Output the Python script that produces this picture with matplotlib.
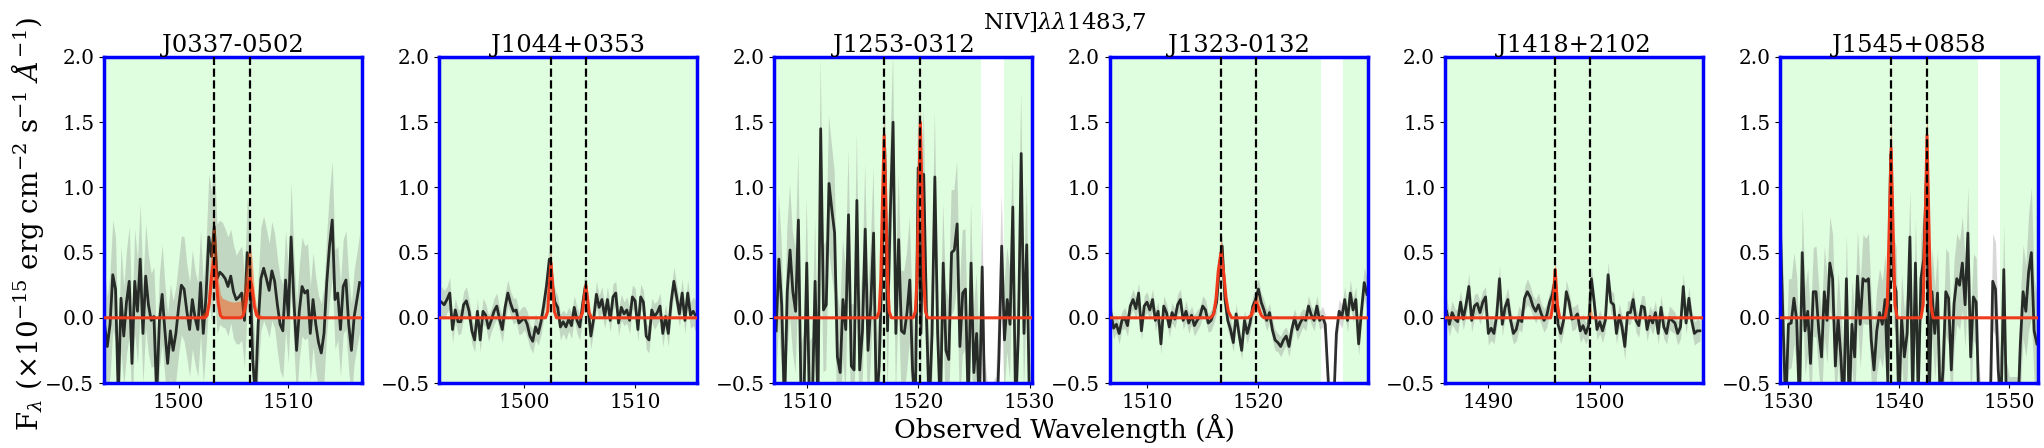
import numpy as np
import matplotlib
matplotlib.use("Agg")
import matplotlib.pyplot as plt

plt.rcParams["font.family"] = "DejaVu Serif"
plt.rcParams["mathtext.fontset"] = "dejavuserif"

# ---- data ------------------------------------------------------------------
names = ["J0337-0502", "J1044+0353", "J1253-0312", "J1323-0132", "J1418+2102", "J1545+0858"]
xlims = [(1493.2, 1516.7), (1492.3, 1515.6), (1507.1, 1530.25),
         (1506.65, 1529.8), (1486.1, 1509.25), (1529.25, 1552.6)]
line_pos = [(1503.27, 1506.5), (1502.4, 1505.6), (1516.95, 1520.2),
            (1516.64, 1519.82), (1496.0, 1499.17), (1539.3, 1542.55)]
good_ranges = [[(1493.2, 1516.7)], [(1492.3, 1515.6)],
               [(1507.1, 1525.6), (1527.7, 1530.25)],
               [(1506.65, 1525.6), (1527.6, 1529.8)],
               [(1486.1, 1509.25)],
               [(1529.25, 1547.2), (1549.2, 1552.6)]]

# spectra: first pixel wavelength, pixel size (A), flux, error
wave_start = [1493.25, 1492.5, 1507.25, 1506.75, 1486.25, 1529.25]
wave_step = [0.25, 0.25, 0.25, 0.25, 0.25, 0.25]

flux1 = [-0.05, -0.22, -0.05, 0.33, 0.22, -0.60, 0.15, -0.14, 0.12, 0.28,
         -0.35, 0.28, 0.05, 0.45, -0.12, 0.32, 0.10, -0.02, 0.01, -0.60,
         -0.02, 0.18, -0.10, -0.35, -0.10, -0.25, -0.12, 0.08, 0.25, 0.22,
         0.05, -0.09, 0.14, 0.00, -0.09, 0.27, -0.12, 0.17, 0.62, 0.47,
         0.70, 0.30, 0.35, 0.33, 0.30, 0.24, 0.32, 0.20, 0.14, 0.16,
         0.19, -0.02, 0.50, 0.39, -0.32, -0.60, -0.05, 0.30, 0.38, 0.30,
         0.21, 0.36, 0.28, 0.10, -0.05, -0.10, 0.29, 0.01, 0.62, 0.14,
         -0.25, 0.05, 0.24, 0.19, 0.21, -0.12, 0.14, -0.05, -0.19, -0.27,
         -0.12, 0.27, 0.55, 0.75, 0.14, 0.19, -0.09, 0.24, 0.29, -0.05,
         -0.25, 0.01, 0.14, 0.27]
err1 = [0.40, 0.38, 0.40, 0.42, 0.40, 0.38, 0.40, 0.38, 0.40, 0.42,
        0.38, 0.40, 0.40, 0.42, 0.38, 0.40, 0.38, 0.36, 0.38, 0.40,
        0.36, 0.38, 0.36, 0.38, 0.36, 0.38, 0.36, 0.36, 0.38, 0.40,
        0.36, 0.36, 0.38, 0.36, 0.36, 0.40, 0.38, 0.40, 0.48, 0.50,
        0.50, 0.42, 0.40, 0.40, 0.38, 0.38, 0.36, 0.36, 0.34, 0.36,
        0.36, 0.36, 0.42, 0.40, 0.38, 0.38, 0.36, 0.40, 0.40, 0.38,
        0.36, 0.38, 0.36, 0.36, 0.36, 0.36, 0.38, 0.36, 0.42, 0.36,
        0.36, 0.36, 0.38, 0.36, 0.36, 0.36, 0.36, 0.36, 0.36, 0.38,
        0.36, 0.38, 0.42, 0.45, 0.38, 0.36, 0.36, 0.36, 0.38, 0.36,
        0.36, 0.36, 0.36, 0.38]

flux2 = [0.12, 0.10, 0.14, 0.19, -0.09, 0.06, -0.03, -0.03, 0.10, 0.13,
         0.05, -0.10, -0.17, 0.05, -0.17, 0.05, 0.02, -0.08, -0.02, 0.05,
         0.09, -0.01, -0.09, 0.08, 0.19, 0.11, 0.05, 0.06, -0.04, -0.02,
         0.00, -0.05, -0.14, -0.18, -0.07, -0.12, -0.03, 0.10, 0.25, 0.45,
         0.27, 0.12, 0.08, -0.07, -0.03, -0.07, -0.01, -0.06, 0.08, -0.02,
         -0.07, 0.10, 0.24, 0.08, -0.14, -0.01, 0.18, 0.08, 0.14, 0.01,
         0.14, -0.02, 0.16, 0.19, -0.04, 0.08, 0.03, 0.06, -0.02, 0.16,
         0.13, -0.09, 0.16, 0.12, -0.14, -0.17, 0.06, 0.01, 0.04, 0.09,
         -0.12, 0.01, -0.12, 0.12, 0.28, 0.16, 0.03, 0.19, -0.02, 0.19,
         0.02, 0.05, 0.01]
err2 = [0.12, 0.11, 0.10, 0.12, 0.10, 0.09, 0.10, 0.09, 0.10, 0.11,
        0.09, 0.10, 0.09, 0.10, 0.09, 0.10, 0.09, 0.10, 0.09, 0.10,
        0.10, 0.09, 0.10, 0.11, 0.10, 0.09, 0.10, 0.09, 0.09, 0.10,
        0.09, 0.10, 0.09, 0.09, 0.10, 0.09, 0.10, 0.10, 0.11, 0.12,
        0.11, 0.10, 0.09, 0.10, 0.09, 0.10, 0.09, 0.10, 0.09, 0.10,
        0.10, 0.11, 0.12, 0.10, 0.10, 0.09, 0.10, 0.09, 0.10, 0.09,
        0.10, 0.09, 0.10, 0.09, 0.10, 0.10, 0.09, 0.10, 0.10, 0.09,
        0.10, 0.09, 0.10, 0.09, 0.10, 0.10, 0.09, 0.10, 0.09, 0.10,
        0.10, 0.09, 0.10, 0.10, 0.11, 0.10, 0.10, 0.11, 0.10, 0.10,
        0.10, 0.11, 0.12]

flux3 = [-0.10, 0.45, 0.10, -0.70, 0.20, 0.52, 0.20, 0.05, 0.75, -0.70,
         -0.60, 0.42, -0.70, -0.65, 0.28, -0.70, 1.45, 0.06, 0.10, 1.03,
         0.83, 0.65, -0.30, -0.42, 0.14, -0.09, 0.79, -0.37, -0.40, 0.90,
         -0.40, -0.10, 0.68, -0.25, 0.10, 0.65, -0.70, -0.37, 0.40, 1.30,
         -0.10, 0.80, 1.50, -0.12, 0.60, -0.10, -0.12, 0.04, 0.29, -0.40,
         -0.70, 1.15, -0.12, 1.10, 0.00, -0.70, -0.12, 1.08, -0.12, -0.70,
         0.42, -0.25, -0.32, 0.50, 0.52, 0.72, -0.22, 0.19, 0.22, -0.70,
         0.42, -0.42, -0.12, -0.70, 0.39, -0.80, -1.00, -1.00, -1.00, -0.90,
         -0.31, 0.55, -0.17, 0.14, -0.05, 0.85, -0.70, -0.12, 1.26, -0.12,
         0.56, -0.70]
err3 = [0.45, 0.50, 0.48, 0.52, 0.48, 0.50, 0.46, 0.48, 0.52, 0.50,
        0.48, 0.50, 0.52, 0.50, 0.48, 0.50, 0.55, 0.48, 0.50, 0.52,
        0.50, 0.48, 0.50, 0.48, 0.46, 0.48, 0.50, 0.48, 0.50, 0.52,
        0.48, 0.46, 0.50, 0.48, 0.46, 0.50, 0.48, 0.46, 0.48, 0.55,
        0.50, 0.48, 0.52, 0.48, 0.50, 0.46, 0.48, 0.46, 0.48, 0.50,
        0.50, 0.52, 0.50, 0.52, 0.48, 0.50, 0.48, 0.50, 0.48, 0.50,
        0.46, 0.48, 0.46, 0.48, 0.46, 0.48, 0.46, 0.48, 0.46, 0.48,
        0.46, 0.48, 0.46, 0.48, 0.46, 0.50, 0.50, 0.50, 0.50, 0.45,
        0.42, 0.40, 0.42, 0.40, 0.42, 0.45, 0.42, 0.44, 0.48, 0.44,
        0.46, 0.44]

flux4 = [0.04, -0.08, -0.05, -0.12, -0.02, 0.00, -0.06, 0.09, 0.14, 0.07,
         0.19, -0.10, 0.09, 0.12, 0.06, 0.14, -0.02, 0.05, -0.20, 0.09,
         0.04, -0.07, 0.04, -0.01, 0.10, 0.14, -0.02, 0.05, -0.04, 0.02,
         -0.06, -0.02, 0.01, 0.09, 0.06, -0.04, -0.02, 0.04, 0.12, 0.39,
         0.55, 0.14, -0.02, -0.09, -0.19, 0.03, -0.12, -0.25, -0.02, -0.12,
         -0.04, 0.09, 0.14, 0.22, 0.12, 0.06, -0.02, 0.04, -0.09, -0.17,
         -0.19, -0.22, -0.17, -0.14, -0.22, -0.09, 0.00, -0.09, -0.04, 0.00,
         -0.02, 0.09, 0.02, -0.02, 0.09, -0.02, 0.01, -0.05, -0.45, -0.80,
         -0.70, -0.12, 0.05, 0.01, 0.14, -0.02, 0.19, 0.06, 0.14, -0.20,
         0.05, 0.27, 0.18]
err4 = [0.08, 0.08, 0.07, 0.08, 0.07, 0.08, 0.08, 0.07, 0.08, 0.08,
        0.08, 0.07, 0.08, 0.08, 0.07, 0.08, 0.08, 0.07, 0.08, 0.08,
        0.07, 0.08, 0.08, 0.07, 0.08, 0.08, 0.07, 0.08, 0.08, 0.07,
        0.08, 0.08, 0.07, 0.08, 0.08, 0.07, 0.08, 0.08, 0.08, 0.09,
        0.09, 0.08, 0.08, 0.08, 0.07, 0.08, 0.08, 0.07, 0.08, 0.08,
        0.07, 0.08, 0.08, 0.08, 0.07, 0.08, 0.08, 0.07, 0.08, 0.08,
        0.07, 0.08, 0.08, 0.07, 0.08, 0.08, 0.07, 0.08, 0.08, 0.07,
        0.08, 0.08, 0.07, 0.08, 0.08, 0.07, 0.08, 0.08, 0.10, 0.12,
        0.12, 0.10, 0.09, 0.09, 0.10, 0.09, 0.10, 0.09, 0.10, 0.09,
        0.10, 0.12, 0.12]

flux5 = [0.05, -0.05, 0.04, -0.01, -0.03, 0.12, -0.01, 0.10, 0.24, -0.02,
         0.09, 0.11, 0.04, 0.12, 0.16, -0.12, -0.08, -0.12, 0.02, 0.30,
         -0.05, 0.08, 0.14, -0.02, -0.12, -0.09, 0.00, -0.03, 0.15, 0.20,
         0.16, 0.09, 0.05, 0.10, 0.03, -0.02, 0.02, 0.12, 0.18, 0.30,
         -0.05, -0.12, -0.02, 0.20, 0.12, -0.01, 0.00, 0.03, -0.10, -0.06,
         -0.12, -0.06, 0.30, 0.12, -0.09, -0.03, -0.10, -0.02, 0.33, 0.12,
         0.10, -0.12, 0.02, -0.07, -0.22, 0.04, 0.04, 0.14, -0.02, -0.06,
         0.09, 0.08, -0.09, 0.01, -0.04, 0.04, -0.12, 0.08, -0.07, -0.12,
         0.00, -0.02, -0.04, -0.12, -0.07, 0.24, -0.04, 0.15, -0.02, -0.12,
         -0.10, -0.10]
err5 = [0.10, 0.09, 0.09, 0.08, 0.09, 0.09, 0.08, 0.09, 0.10, 0.09,
        0.09, 0.08, 0.09, 0.09, 0.08, 0.09, 0.09, 0.08, 0.09, 0.10,
        0.09, 0.08, 0.09, 0.09, 0.08, 0.09, 0.09, 0.08, 0.09, 0.10,
        0.09, 0.08, 0.09, 0.09, 0.08, 0.09, 0.09, 0.08, 0.09, 0.10,
        0.09, 0.08, 0.09, 0.09, 0.08, 0.09, 0.09, 0.08, 0.09, 0.09,
        0.08, 0.09, 0.10, 0.09, 0.08, 0.09, 0.09, 0.08, 0.10, 0.09,
        0.09, 0.08, 0.09, 0.09, 0.10, 0.09, 0.09, 0.08, 0.09, 0.09,
        0.08, 0.09, 0.09, 0.08, 0.09, 0.09, 0.08, 0.09, 0.09, 0.08,
        0.09, 0.09, 0.08, 0.09, 0.09, 0.10, 0.09, 0.09, 0.08, 0.09,
        0.09, 0.08]

flux6 = [0.75, 0.00, -0.70, -0.05, -0.04, 0.15, -0.02, -0.70, 0.50, -0.10,
         0.05, -0.35, 0.20, 0.20, -0.10, -0.30, 0.20, -0.02, 0.42, 0.30,
         -0.37, 0.00, -0.30, -0.70, 0.30, -0.70, -0.05, -0.30, 0.32, -0.05,
         0.30, 0.28, 0.30, -0.17, -0.40, -0.10, 0.04, -0.05, 0.14, -0.50,
         1.25, 0.30, 0.20, -0.70, 0.00, -0.30, -0.12, 0.62, -0.60, 0.42,
         -0.60, 0.30, 0.45, 1.10, -0.60, 0.20, -0.12, 0.19, -0.70, -0.40,
         0.20, 0.15, -0.40, 0.11, 0.30, 0.25, 0.42, 0.10, 0.65, -0.30,
         0.16, 0.12, -0.70, -1.00, -1.00, -1.00, -0.80, 0.28, 0.22, -0.40,
         -0.70, 0.37, -0.70, -0.80, -0.80, -0.80, -0.80, -0.20, 0.20, 0.05,
         0.35, 0.50, -0.10, -0.20]
err6 = [0.40, 0.38, 0.36, 0.35, 0.34, 0.35, 0.34, 0.36, 0.35, 0.34,
        0.33, 0.35, 0.34, 0.35, 0.33, 0.34, 0.35, 0.33, 0.36, 0.34,
        0.33, 0.35, 0.34, 0.36, 0.34, 0.36, 0.33, 0.34, 0.35, 0.33,
        0.34, 0.33, 0.35, 0.33, 0.34, 0.33, 0.34, 0.33, 0.35, 0.36,
        0.40, 0.35, 0.34, 0.36, 0.34, 0.35, 0.34, 0.36, 0.35, 0.34,
        0.35, 0.34, 0.36, 0.40, 0.35, 0.34, 0.35, 0.33, 0.36, 0.34,
        0.33, 0.35, 0.34, 0.33, 0.35, 0.34, 0.36, 0.33, 0.35, 0.34,
        0.33, 0.34, 0.36, 0.38, 0.38, 0.38, 0.38, 0.37, 0.36, 0.35,
        0.36, 0.35, 0.36, 0.35, 0.35, 0.35, 0.35, 0.36, 0.36, 0.35,
        0.45, 0.50, 0.40, 0.38]

fluxes = [flux1, flux2, flux3, flux4, flux5, flux6]
errors = [err1, err2, err3, err4, err5, err6]

# best-fit model and its uncertainty band, sampled at the listed wavelengths
model_w1 = [1493.2, 1501.8, 1502.4, 1502.6, 1502.8, 1503.0, 1503.2, 1503.4, 1503.6, 1503.8,
            1504.0, 1504.5, 1505.0, 1505.7, 1505.9, 1506.1, 1506.3, 1506.5, 1506.7, 1506.9,
            1507.1, 1507.3, 1508.0, 1516.7]
model_f1 = [0, 0, 0, 0.02, 0.12, 0.32, 0.44, 0.32, 0.12, 0.02,
            0, 0, 0, 0, 0.02, 0.09, 0.23, 0.31, 0.23, 0.09,
            0.02, 0, 0, 0]
model_hi1 = [0, 0, 0.05, 0.10, 0.30, 0.60, 0.78, 0.60, 0.30, 0.18,
             0.15, 0.13, 0.12, 0.13, 0.20, 0.35, 0.50, 0.57, 0.45, 0.20,
             0.08, 0.03, 0, 0]
model_lo1 = [0, 0, 0, 0.01, 0.08, 0.22, 0.30, 0.22, 0.08, 0.01,
             0, 0, 0, 0, 0.01, 0.06, 0.15, 0.20, 0.15, 0.06,
             0.01, 0, 0, 0]

model_w2 = [1492.3, 1501.9, 1502.1, 1502.25, 1502.4, 1502.55, 1502.7, 1502.9,
            1505.05, 1505.25, 1505.4, 1505.55, 1505.7, 1505.85, 1506.05, 1515.6]
model_f2 = [0, 0, 0.05, 0.25, 0.42, 0.25, 0.05, 0, 0, 0.04, 0.15, 0.25, 0.15, 0.04, 0, 0]
model_hi2 = [0, 0, 0.07, 0.32, 0.53, 0.32, 0.07, 0, 0, 0.05, 0.19, 0.30, 0.19, 0.05, 0, 0]
model_lo2 = [0, 0, 0.03, 0.19, 0.33, 0.19, 0.03, 0, 0, 0.03, 0.11, 0.19, 0.11, 0.03, 0, 0]

model_w3 = [1507.1, 1516.3, 1516.5, 1516.65, 1516.8, 1516.95, 1517.1, 1517.25, 1517.4, 1517.6,
            1519.55, 1519.75, 1519.9, 1520.05, 1520.2, 1520.35, 1520.5, 1520.65, 1520.85, 1530.25]
model_f3 = [0, 0, 0.05, 0.30, 0.90, 1.40, 0.90, 0.30, 0.05, 0,
            0, 0.05, 0.30, 0.95, 1.50, 0.95, 0.30, 0.05, 0, 0]
model_hi3 = [0, 0, 0.06, 0.34, 1.00, 1.55, 1.00, 0.34, 0.06, 0,
             0, 0.06, 0.34, 1.05, 1.65, 1.05, 0.34, 0.06, 0, 0]
model_lo3 = [0, 0, 0.04, 0.26, 0.80, 1.25, 0.80, 0.26, 0.04, 0,
             0, 0.04, 0.26, 0.85, 1.35, 0.85, 0.26, 0.04, 0, 0]

model_w4 = [1506.65, 1515.7, 1516.0, 1516.2, 1516.4, 1516.64, 1516.9, 1517.1, 1517.3, 1517.6,
            1519.1, 1519.35, 1519.55, 1519.8, 1520.05, 1520.25, 1520.5, 1529.8]
model_f4 = [0, 0, 0.03, 0.15, 0.36, 0.50, 0.33, 0.15, 0.05, 0,
            0, 0.02, 0.07, 0.12, 0.07, 0.02, 0, 0]
model_hi4 = [0, 0, 0.04, 0.19, 0.45, 0.62, 0.42, 0.19, 0.06, 0,
             0, 0.03, 0.12, 0.20, 0.12, 0.03, 0, 0]
model_lo4 = [0, 0, 0.02, 0.11, 0.28, 0.40, 0.25, 0.11, 0.03, 0,
             0, 0.01, 0.03, 0.06, 0.03, 0.01, 0, 0]

model_w5 = [1486.1, 1495.6, 1495.8, 1496.0, 1496.2, 1496.4, 1498.9, 1499.17, 1499.4, 1509.25]
model_f5 = [0, 0, 0.10, 0.37, 0.10, 0, 0, 0.00, 0, 0]
model_hi5 = [0, 0, 0.13, 0.45, 0.13, 0, 0, 0.10, 0, 0]
model_lo5 = [0, 0, 0.07, 0.28, 0.07, 0, 0, 0.00, 0, 0]

model_w6 = [1529.25, 1538.75, 1538.95, 1539.1, 1539.3, 1539.5, 1539.65, 1539.85,
            1542.0, 1542.2, 1542.35, 1542.55, 1542.75, 1542.9, 1543.1, 1552.6]
model_f6 = [0, 0, 0.10, 0.60, 1.30, 0.60, 0.10, 0, 0, 0.10, 0.60, 1.40, 0.60, 0.10, 0, 0]
model_hi6 = [0, 0, 0.13, 0.75, 1.60, 0.75, 0.13, 0, 0, 0.13, 0.75, 1.65, 0.75, 0.13, 0, 0]
model_lo6 = [0, 0, 0.07, 0.45, 1.00, 0.45, 0.07, 0, 0, 0.07, 0.45, 1.10, 0.45, 0.07, 0, 0]

model_ws = [model_w1, model_w2, model_w3, model_w4, model_w5, model_w6]
model_fs = [model_f1, model_f2, model_f3, model_f4, model_f5, model_f6]
model_his = [model_hi1, model_hi2, model_hi3, model_hi4, model_hi5, model_hi6]
model_los = [model_lo1, model_lo2, model_lo3, model_lo4, model_lo5, model_lo6]

# ---- figure ----------------------------------------------------------------
fig, axes = plt.subplots(1, 6, figsize=(20.44, 4.48), dpi=100)
fig.subplots_adjust(left=104 / 2044, right=2038 / 2044, top=1 - 57 / 448,
                    bottom=1 - 383 / 448, wspace=0.3)

for i, ax in enumerate(axes):
    flux = np.array(fluxes[i])
    err = np.array(errors[i])
    wave = wave_start[i] + wave_step[i] * np.arange(len(flux))

    for lo, hi in good_ranges[i]:
        ax.axvspan(lo, hi, color="palegreen", alpha=0.3, lw=0, zorder=0)

    ax.fill_between(wave, flux - err, flux + err, color="grey", alpha=0.3, lw=0, zorder=1)
    ax.plot(wave, flux, color="k", alpha=0.8, lw=2, zorder=2)

    ax.fill_between(model_ws[i], model_los[i], model_his[i], color="orangered",
                    alpha=0.45, lw=0, zorder=3)
    ax.plot(model_ws[i], model_fs[i], color="#f03a1c", lw=2.2, zorder=4)

    for lp in line_pos[i]:
        ax.axvline(lp, color="k", ls="--", lw=1.6, zorder=5)

    ax.set_xlim(*xlims[i])
    ax.set_ylim(-0.5, 2.0)
    ax.set_yticks([-0.5, 0.0, 0.5, 1.0, 1.5, 2.0])
    ax.xaxis.set_major_locator(matplotlib.ticker.MultipleLocator(10))
    ax.tick_params(labelsize=14.5)
    ax.set_title(names[i], fontsize=17.5, pad=1)
    for sp in ax.spines.values():
        sp.set_color("blue")
        sp.set_linewidth(2.5)

fig.text(1065 / 2044, 1 - 22 / 448, r"NIV]$\lambda\lambda$1483,7", ha="center",
         va="center", fontsize=16.5)
fig.text(1065 / 2044, 1 - 438 / 448, "Observed Wavelength (Å)", ha="center",
         va="baseline", fontsize=19)
fig.text(28 / 2044, 0.5, r"F$_\lambda$ ($\times10^{-15}$ erg cm$^{-2}$ s$^{-1}$ $\AA^{-1}$)",
         rotation=90, ha="center", va="center", fontsize=20)

fig.savefig("out.png", dpi=100)
